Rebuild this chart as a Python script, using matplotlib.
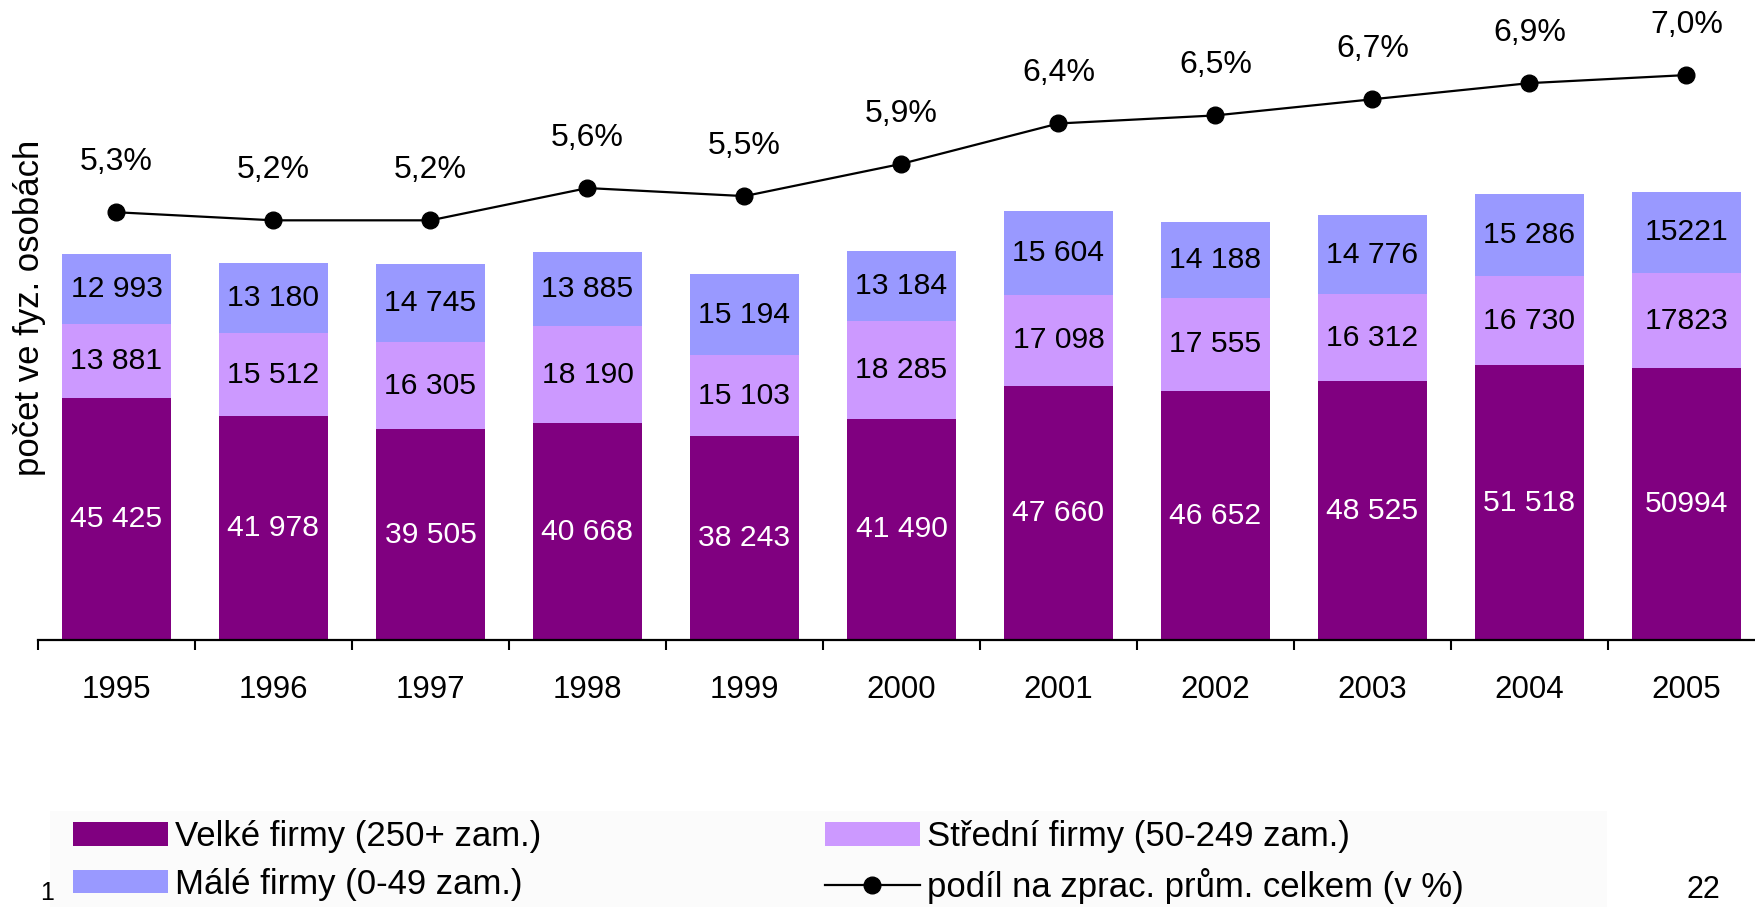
import numpy as np
import matplotlib
matplotlib.use("Agg")
import matplotlib.pyplot as plt
from matplotlib.patches import Patch, Rectangle
from matplotlib.lines import Line2D

plt.rcParams['font.family'] = ['Liberation Sans', 'DejaVu Sans']

# ========== data ==========
years = ["1995", "1996", "1997", "1998", "1999", "2000",
         "2001", "2002", "2003", "2004", "2005"]
velke = [45425, 41978, 39505, 40668, 38243, 41490, 47660, 46652, 48525, 51518, 50994]
stredni = [13881, 15512, 16305, 18190, 15103, 18285, 17098, 17555, 16312, 16730, 17823]
male = [12993, 13180, 14745, 13885, 15194, 13184, 15604, 14188, 14776, 15286, 15221]
podil = [5.3, 5.2, 5.2, 5.6, 5.5, 5.9, 6.4, 6.5, 6.7, 6.9, 7.0]

series_names = ["Velké firmy (250+ zam.)", "Střední firmy (50-249 zam.)",
                "Málé firmy (0-49 zam.)", "podíl na zprac. prům. celkem (v %)"]
colors = ["#800080", "#CC99FF", "#9999FF"]

# last year is printed without thousands space in the source
no_space_year = "2005"


def fmt(v, yr):
    if yr == no_space_year:
        return str(v)
    return f"{v:,}".replace(",", " ")


# ========== figure ==========
W, H = 1756, 907
fig = plt.figure(figsize=(W / 100, H / 100), dpi=100)
fig.patch.set_facecolor("white")

# faint legend background band
fig.patches.append(Rectangle((50 / W, 0), (1607 - 50) / W, (H - 811) / H,
                             transform=fig.transFigure, facecolor="#fbfbfb",
                             edgecolor="none", zorder=0))

ax = fig.add_axes([38 / W, (H - 640) / H, (1765 - 38) / W, 640 / H])
x = np.arange(len(years))
bw = 0.69

bottoms = np.zeros(len(years))
stacks = [velke, stredni, male]
for vals, col in zip(stacks, colors):
    vals = np.array(vals)
    ax.bar(x, vals, bw, bottom=bottoms, color=col, edgecolor="none", zorder=2)
    for i in range(len(years)):
        tc = "white" if col == colors[0] else "black"
        ax.text(x[i], bottoms[i] + vals[i] / 2, fmt(int(vals[i]), years[i]),
                ha="center", va="center", fontsize=21.7, color=tc, zorder=3)
    bottoms = bottoms + vals

ax.set_xlim(-0.5, len(years) - 0.5)
ax.set_ylim(0, 120000)
for s in ["top", "right", "left"]:
    ax.spines[s].set_visible(False)
ax.spines["bottom"].set_linewidth(1.6)
ax.set_yticks([])

# boundary ticks without labels, year labels at centres
ax.set_xticks(np.arange(-0.5, len(years) - 0.5, 1.0))
ax.set_xticklabels([])
ax.tick_params(axis="x", which="major", length=7, width=1.5, direction="out")
ax.set_xticks(x, minor=True)
ax.set_xticklabels(years, minor=True, fontsize=22.5)
ax.tick_params(axis="x", which="minor", length=0, pad=25)

fig.text(30 / W, 1 - 308 / H, "počet ve fyz. osobách", rotation=90,
         ha="center", va="center", fontsize=25)

# ========== share line ==========
ax2 = ax.twinx()
ax2.set_ylim(0, 7.93)
ax2.plot(x, podil, color="black", lw=1.6, marker="o", markersize=12, zorder=4)
for i, v in enumerate(podil):
    ax2.annotate(f"{v:.1f}".replace(".", ",") + "%", (x[i], v),
                 xytext=(0, 36), textcoords="offset points",
                 ha="center", va="center", fontsize=23)
ax2.set_yticks([])
for s in ax2.spines.values():
    s.set_visible(False)

# ========== legend ==========
handles = [Patch(facecolor=colors[0]), Patch(facecolor=colors[2]),
           Patch(facecolor=colors[1]),
           Line2D([], [], color="black", lw=1.6, marker="o", markersize=12)]
labels = [series_names[0], series_names[2], series_names[1], series_names[3]]
leg = fig.legend(handles, labels, ncol=2, loc="upper left",
                 bbox_to_anchor=(73 / W, 1 - 820 / H), borderaxespad=0,
                 borderpad=0, frameon=False, fontsize=25,
                 handlelength=2.75, handleheight=0.66, handletextpad=0.2,
                 columnspacing=8.15, labelspacing=0.42, numpoints=1)

fig.text(40 / W, 2 / H, "1", ha="left", va="bottom", fontsize=18)
fig.text(1687 / W, 2 / H, "22", ha="left", va="bottom", fontsize=22)

plt.savefig("out.png", dpi=100)
plt.close()
print("Saved: out.png")
